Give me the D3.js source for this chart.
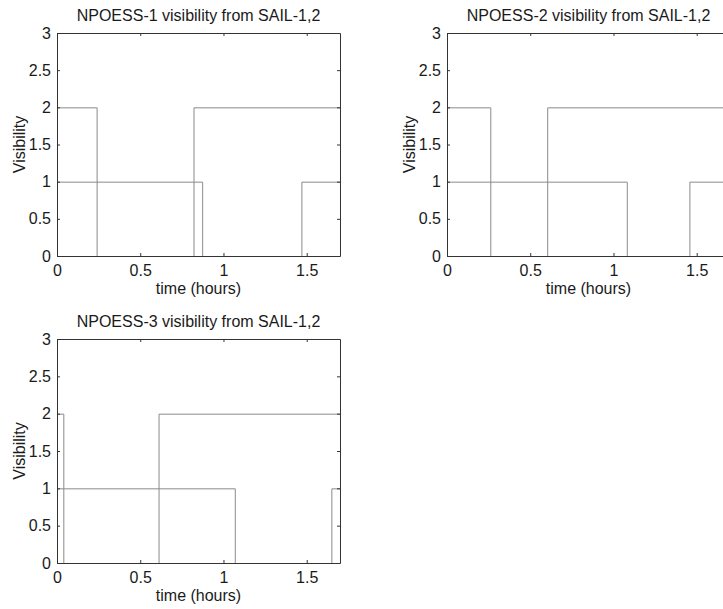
<!DOCTYPE html>
<html>
<head>
<meta charset="utf-8">
<script src="https://cdn.jsdelivr.net/npm/d3@7"></script>
<style>
  body { margin: 0; background: #fff; }
  svg { display: block; }
  text { font-family: "Liberation Sans", Arial, sans-serif; font-size: 16px; fill: #1a1a1a; }
</style>
</head>
<body>
<svg width="723" height="609"></svg>
<script>
// titles of the three panels
var titles = ["NPOESS-1 visibility from SAIL-1,2",
              "NPOESS-2 visibility from SAIL-1,2",
              "NPOESS-3 visibility from SAIL-1,2"]

// step series, change points (hours) and level after each point
// level-2 series
var timesA = [[0, 0.238, 0.82, 1.7],
              [0, 0.26, 0.602, 1.7],
              [0, 0.038, 0.61, 1.7]]
var valsA  = [[2, 0, 2, 2],
              [2, 0, 2, 2],
              [2, 0, 2, 2]]
// level-1 series
var timesB = [[0, 0.872, 1.468, 1.7],
              [0, 1.08, 1.456, 1.7],
              [0, 1.068, 1.648, 1.7]]
var valsB  = [[1, 0, 1, 1],
              [1, 0, 1, 1],
              [1, 0, 1, 1]]

var xTicks = [0, 0.5, 1, 1.5]
var yTicks = [0, 0.5, 1, 1.5, 2, 2.5, 3]
var xLabel = "time (hours)"
var yLabel = "Visibility"

var svg = d3.select("svg");

// panel boxes: left, top, width, height
var panels = [
    {x: 57, y: 33, w: 283, h: 223},
    {x: 447, y: 33, w: 283, h: 223},
    {x: 57, y: 339, w: 283, h: 224}
]

panels.forEach(function (p, i) {
    drawPanel(p, i);
});

function drawPanel(p, i) {
    var g = svg.append("g").attr("transform", "translate(" + p.x + "," + p.y + ")");

    var x = d3.scaleLinear().domain([0, 1.7]).range([0, p.w]);
    var y = d3.scaleLinear().domain([0, 3]).range([p.h, 0]);

    var line = d3.line()
        .x(function (d) { return x(d[0]); })
        .y(function (d) { return y(d[1]); })
        .curve(d3.curveStepAfter);

    var seriesA = d3.zip(timesA[i], valsA[i]);
    var seriesB = d3.zip(timesB[i], valsB[i]);

    // same half pixel offset as the axes so zero level sits on the frame
    var gd = g.append("g").attr("transform", "translate(0.5,0.5)");
    [seriesA, seriesB].forEach(function (s) {
        gd.append("path")
            .attr("d", line(s))
            .attr("fill", "none")
            .attr("stroke", "#8a8a8a")
            .attr("stroke-width", 1);
    });

    // axes, ticks inside like matlab box
    var bottom = d3.axisBottom(x).tickValues(xTicks).tickSizeInner(-3).tickSizeOuter(0).tickPadding(5)
        .tickFormat(d3.format("~g"));
    var top = d3.axisTop(x).tickValues(xTicks).tickSizeInner(-3).tickSizeOuter(0).tickFormat("");
    var left = d3.axisLeft(y).tickValues(yTicks).tickSizeInner(-3).tickSizeOuter(0).tickPadding(6)
        .tickFormat(d3.format("~g"));
    var right = d3.axisRight(y).tickValues(yTicks).tickSizeInner(-3).tickSizeOuter(0).tickFormat("");

    var gb = g.append("g").attr("transform", "translate(0," + p.h + ")").call(bottom);
    var gt = g.append("g").call(top);
    var gl = g.append("g").call(left);
    var gr = g.append("g").attr("transform", "translate(" + p.w + ",0)").call(right);

    [gb, gt, gl, gr].forEach(function (a) {
        a.selectAll("path, line").attr("stroke", "#333");
        a.selectAll("text").attr("fill", "#1a1a1a").style("font-size", "16px")
            .style("font-family", "'Liberation Sans', Arial, sans-serif");
    });
    gb.selectAll("text").attr("dy", "0.95em");

    g.append("text")
        .attr("x", p.w / 2)
        .attr("y", -12)
        .attr("text-anchor", "middle")
        .text(titles[i]);

    g.append("text")
        .attr("x", p.w / 2)
        .attr("y", p.h + 38)
        .attr("text-anchor", "middle")
        .text(xLabel);

    g.append("text")
        .attr("transform", "translate(-32," + (p.h / 2) + ") rotate(-90)")
        .attr("text-anchor", "middle")
        .text(yLabel);
}
</script>
</body>
</html>
